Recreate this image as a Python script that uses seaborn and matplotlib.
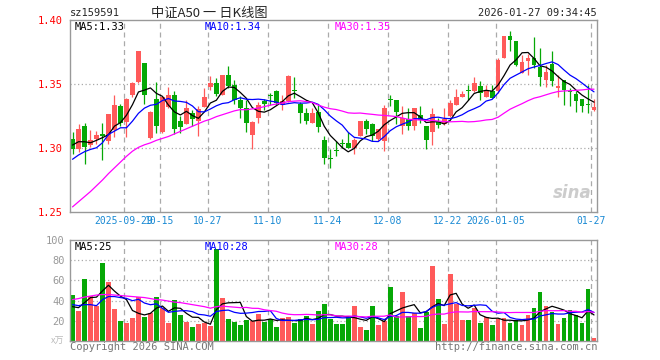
import numpy as np
import pandas as pd
import matplotlib
matplotlib.use("Agg")
import matplotlib.pyplot as plt
import seaborn as sns

# daily candles (index 0 = 2025-09-16)
opens = [1.3067, 1.2995, 1.3168, 1.3023, 1.3067, 1.3106, 1.3054, 1.3137, 1.3326, 1.3205,
         1.3412, 1.3516, 1.3663, 1.3075, 1.3386, 1.3127, 1.3321, 1.3417, 1.3210, 1.3189,
         1.3275, 1.3210, 1.3324, 1.3479, 1.3510, 1.3417, 1.3573, 1.3495, 1.3378, 1.3313,
         1.3104, 1.3236, 1.3370, 1.3412, 1.3443, 1.3339, 1.3365, 1.3456, 1.3344, 1.3275,
         1.3197, 1.3282, 1.3059, 1.2922, 1.2982, 1.3036, 1.3036, 1.2997, 1.3093, 1.3210,
         1.3189, 1.3067, 1.3054, 1.3380, 1.3378, 1.3171, 1.3223, 1.3171, 1.3256, 1.3171,
         1.3127, 1.3205, 1.3184, 1.3249, 1.3339, 1.3396, 1.3451, 1.3443, 1.3484, 1.3396,
         1.3443, 1.3443, 1.3702, 1.3876, 1.3837, 1.3586, 1.3676, 1.3707, 1.3630, 1.3534,
         1.3656, 1.3472, 1.3534, 1.3443, 1.3425, 1.3386, 1.3337, 1.3300]
highs = [1.3122, 1.3189, 1.3194, 1.3137, 1.3132, 1.3194, 1.3268, 1.3417, 1.3344, 1.3390,
         1.3515, 1.3759, 1.3663, 1.3290, 1.3516, 1.3395, 1.3477, 1.3443, 1.3249, 1.3378,
         1.3300, 1.3326, 1.3469, 1.3560, 1.3547, 1.3573, 1.3637, 1.3534, 1.3404, 1.3378,
         1.3210, 1.3357, 1.3386, 1.3430, 1.3456, 1.3417, 1.3573, 1.3557, 1.3360, 1.3313,
         1.3313, 1.3339, 1.3093, 1.2989, 1.3054, 1.3067, 1.3127, 1.3080, 1.3210, 1.3223,
         1.3197, 1.3145, 1.3334, 1.3417, 1.3378, 1.3326, 1.3313, 1.3313, 1.3326, 1.3171,
         1.3313, 1.3231, 1.3313, 1.3378, 1.3464, 1.3448, 1.3490, 1.3552, 1.3526, 1.3495,
         1.3495, 1.3702, 1.3878, 1.3915, 1.3837, 1.3728, 1.3733, 1.3871, 1.3785, 1.3650,
         1.3759, 1.3567, 1.3534, 1.3469, 1.3443, 1.3386, 1.3495, 1.3386]
lows = [1.2952, 1.2970, 1.2873, 1.3007, 1.3028, 1.2904, 1.3033, 1.3085, 1.3171, 1.3085,
        1.3400, 1.3505, 1.3344, 1.3067, 1.3119, 1.3120, 1.3310, 1.3106, 1.3119, 1.3184,
        1.3171, 1.3093, 1.3318, 1.3456, 1.3404, 1.3417, 1.3469, 1.3344, 1.3236, 1.3127,
        1.2995, 1.3197, 1.3300, 1.3339, 1.3339, 1.3293, 1.3360, 1.3391, 1.3197, 1.3189,
        1.3194, 1.3127, 1.2878, 1.2842, 1.2938, 1.2997, 1.2997, 1.2956, 1.3093, 1.3106,
        1.3054, 1.3054, 1.2976, 1.3326, 1.3184, 1.3106, 1.3137, 1.3137, 1.3197, 1.2989,
        1.3023, 1.3153, 1.3179, 1.3241, 1.3334, 1.3396, 1.3378, 1.3438, 1.3378, 1.3396,
        1.3391, 1.3430, 1.3702, 1.3759, 1.3637, 1.3586, 1.3567, 1.3624, 1.3482, 1.3474,
        1.3482, 1.3396, 1.3339, 1.3326, 1.3282, 1.3282, 1.3275, 1.3292]
closes = [1.2990, 1.3145, 1.3007, 1.3059, 1.3098, 1.3096, 1.3262, 1.3339, 1.3197, 1.3386,
          1.3508, 1.3759, 1.3412, 1.3282, 1.3171, 1.3395, 1.3417, 1.3145, 1.3163, 1.3313,
          1.3230, 1.3308, 1.3396, 1.3510, 1.3422, 1.3573, 1.3482, 1.3378, 1.3313, 1.3197,
          1.3207, 1.3339, 1.3344, 1.3407, 1.3352, 1.3370, 1.3565, 1.3446, 1.3275, 1.3210,
          1.3275, 1.3163, 1.2925, 1.2917, 1.2978, 1.3033, 1.2997, 1.3059, 1.3210, 1.3145,
          1.3093, 1.3145, 1.3313, 1.3378, 1.3282, 1.3236, 1.3171, 1.3313, 1.3215, 1.3059,
          1.3262, 1.3179, 1.3223, 1.3352, 1.3396, 1.3425, 1.3448, 1.3508, 1.3430, 1.3443,
          1.3391, 1.3689, 1.3878, 1.3840, 1.3645, 1.3668, 1.3700, 1.3645, 1.3552, 1.3591,
          1.3521, 1.3482, 1.3451, 1.3438, 1.3370, 1.3326, 1.3334, 1.3323]
# volume in 万
volumes = [46, 30, 61, 45, 35, 77, 58, 32, 20, 18, 23, 44, 24, 28, 44, 33, 18, 41, 26, 19,
           14, 17, 18, 15, 91, 43, 22, 19, 16, 21, 20, 27, 19, 22, 14, 23, 24, 18, 22, 25,
           17, 30, 37, 22, 17, 17, 25, 35, 14, 11, 35, 16, 20, 53, 25, 49, 25, 28, 13, 29,
           74, 42, 17, 66, 37, 21, 21, 33, 18, 24, 16, 22, 23, 18, 21, 16, 26, 33, 49, 35,
           29, 17, 23, 31, 26, 18, 51, 3]

# moving-average values at the left edge (their history is off-screen)
ma5_head = [1.3023, 1.3049, 1.3049, 1.3041]
ma10_head = [1.2912, 1.2945, 1.2971, 1.2989, 1.3002, 1.3041, 1.3106, 1.3132, 1.3158]
ma30_head = [1.2540, 1.2580, 1.2620, 1.2660, 1.2705, 1.2750, 1.2800, 1.2845, 1.2890, 1.2935,
             1.2975, 1.3005, 1.3025, 1.3040, 1.3060, 1.3075, 1.3090, 1.3110, 1.3130, 1.3150,
             1.3170, 1.3190, 1.3210, 1.3225, 1.3245, 1.3260, 1.3275, 1.3290, 1.3300]
vol_ma5_head = [34, 33, 38, 43]
vol_ma10_head = [36, 35, 36, 36, 35, 41, 44, 44, 43]
vol_ma30_head = [41, 42, 43.5, 44.5, 45.5, 46, 46, 45.5, 45, 44.5, 44, 43.5, 43, 42, 41,
                 40.5, 39.5, 38.5, 38, 37, 36, 35, 34, 32.5, 34, 34.5, 34, 33.5, 33]

tick_idx = [9, 15, 23, 33, 43, 53, 63, 71, 87]
tick_labels = ["2025-09-29", "10-15", "10-27", "11-10", "11-24",
               "12-08", "12-22", "2026-01-05", "01-27"]
price_ticks = [1.25, 1.30, 1.35, 1.40]
vol_ticks = [20, 40, 60, 80, 100]

RED = "#ff5a5a"
GREEN = "#06a806"
GRID = "#aaaaaa"
FRAME = "#999999"
W, H = 660, 360


def with_head(series, window, head):
    ma = series.rolling(window).mean()
    ma.iloc[:len(head)] = head
    return ma


def px(x, y):
    return x / W, 1 - y / H


df = pd.DataFrame({"open": opens, "high": highs, "low": lows, "close": closes, "vol": volumes})
df["idx"] = np.arange(len(df))
df["ma5"] = with_head(df["close"], 5, ma5_head)
df["ma10"] = with_head(df["close"], 10, ma10_head)
df["ma30"] = with_head(df["close"], 30, ma30_head)
df["vma5"] = with_head(df["vol"].astype(float), 5, vol_ma5_head)
df["vma10"] = with_head(df["vol"].astype(float), 10, vol_ma10_head)
df["vma30"] = with_head(df["vol"].astype(float), 30, vol_ma30_head)
colors = np.where(df["close"] >= df["open"], RED, GREEN)

sns.set_style("white")
plt.rcParams["font.family"] = ["DejaVu Sans Mono", "Noto Sans CJK SC"]

fig = plt.figure(figsize=(W / 100, H / 100), dpi=100)
ax = fig.add_axes([70 / W, 1 - 212 / H, 527 / W, 192 / H])
axv = fig.add_axes([70 / W, 1 - 341 / H, 527 / W, 101 / H])

grid_x = [t - 0.42 for t in tick_idx]

# price panel
ax.set_xlim(-0.42, 87.5)
ax.set_ylim(1.25, 1.40)
ax.vlines(grid_x, 1.25, 1.40, colors=GRID, linestyles=(0, (4, 3)), lw=0.9, zorder=1)
ax.hlines([1.30, 1.35], -0.42, 87.5, colors=GRID, linestyles=(0, (1, 2)), lw=0.9, zorder=1)
ax.vlines(df["idx"], df["low"], df["high"], colors=colors, lw=0.9, zorder=2)
body = np.maximum((df["close"] - df["open"]).abs(), 0.0007)
ax.bar(df["idx"], body, bottom=np.minimum(df["open"], df["close"]),
       width=0.8, color=colors, linewidth=0, zorder=3)
sns.lineplot(x=df["idx"], y=df["ma5"], ax=ax, color="black", lw=0.9, zorder=4)
sns.lineplot(x=df["idx"], y=df["ma10"], ax=ax, color="#0000ff", lw=0.9, zorder=4)
sns.lineplot(x=df["idx"], y=df["ma30"], ax=ax, color="#ff00ff", lw=0.9, zorder=4)
ax.set_xlim(-0.42, 87.5)
ax.set_ylim(1.25, 1.40)
ax.set_yticks(price_ticks)
ax.set_yticklabels([f"{v:.2f}" for v in price_ticks], color="#ff0000", fontsize=7.5)
ax.set_xticks(grid_x)
ax.set_xticklabels(tick_labels, color="#1a8ad4", fontsize=7)
ax.tick_params(axis="x", pad=3, length=0)
ax.tick_params(axis="y", pad=5, length=0)
ax.set_xlabel("")
ax.set_ylabel("")

# volume panel
axv.set_xlim(-0.42, 87.5)
axv.set_ylim(0, 100)
axv.vlines(grid_x, 0, 100, colors=GRID, linestyles=(0, (4, 3)), lw=0.9, zorder=1)
axv.hlines([20, 40, 60, 80], -0.42, 87.5, colors=GRID, linestyles=(0, (1, 2)), lw=0.9, zorder=1)
axv.bar(df["idx"], df["vol"], width=0.8, color=colors, linewidth=0, zorder=2)
sns.lineplot(x=df["idx"], y=df["vma5"], ax=axv, color="black", lw=0.9, zorder=4)
sns.lineplot(x=df["idx"], y=df["vma10"], ax=axv, color="#0000ff", lw=0.9, zorder=4)
sns.lineplot(x=df["idx"], y=df["vma30"], ax=axv, color="#ff00ff", lw=0.9, zorder=4)
axv.set_xlim(-0.42, 87.5)
axv.set_ylim(0, 100)
axv.set_yticks(vol_ticks)
axv.set_yticklabels([str(v) for v in vol_ticks], color="#999999", fontsize=7.5)
axv.tick_params(axis="y", pad=4, length=0)
axv.set_xticks([])
axv.set_xlabel("")
axv.set_ylabel("")

for a in (ax, axv):
    for s in a.spines.values():
        s.set_color(FRAME)
        s.set_linewidth(1.0)
        s.set_zorder(5)

# texts
fig.text(*px(70, 13), "sz159591", fontsize=7.5, va="center", ha="left")
fig.text(*px(209, 13), "中证A50 一 日K线图", fontsize=9.5, va="center", ha="center",
         family=["Noto Sans CJK SC", "DejaVu Sans"])
fig.text(*px(597, 13), "2026-01-27 09:34:45", fontsize=7.5, va="center", ha="right")
fig.text(*px(75, 27), "MA5:1.33", fontsize=7.5, va="center", color="black")
fig.text(*px(205, 27), "MA10:1.34", fontsize=7.5, va="center", color="#0000ff")
fig.text(*px(335, 27), "MA30:1.35", fontsize=7.5, va="center", color="#ff00ff")
fig.text(*px(75, 247), "MA5:25", fontsize=7.5, va="center", color="black")
fig.text(*px(205, 247), "MA10:28", fontsize=7.5, va="center", color="#0000ff")
fig.text(*px(335, 247), "MA30:28", fontsize=7.5, va="center", color="#ff00ff")
fig.text(*px(64, 341), "x万", fontsize=6.5, va="center", ha="right", color="#bbbbbb",
         family=["Noto Sans CJK SC", "DejaVu Sans"])
fig.text(*px(70, 347), "Copyright 2026 SINA.COM", fontsize=7.5, va="center", color="#777777")
fig.text(*px(597, 347), "http://finance.sina.com.cn", fontsize=7.5, va="center",
         ha="right", color="#777777")
fig.text(*px(592, 193), "sina", fontsize=12, fontweight="bold", style="italic",
         va="center", ha="right", color="#cccccc", family="DejaVu Sans")

fig.savefig("out.png", dpi=100)
